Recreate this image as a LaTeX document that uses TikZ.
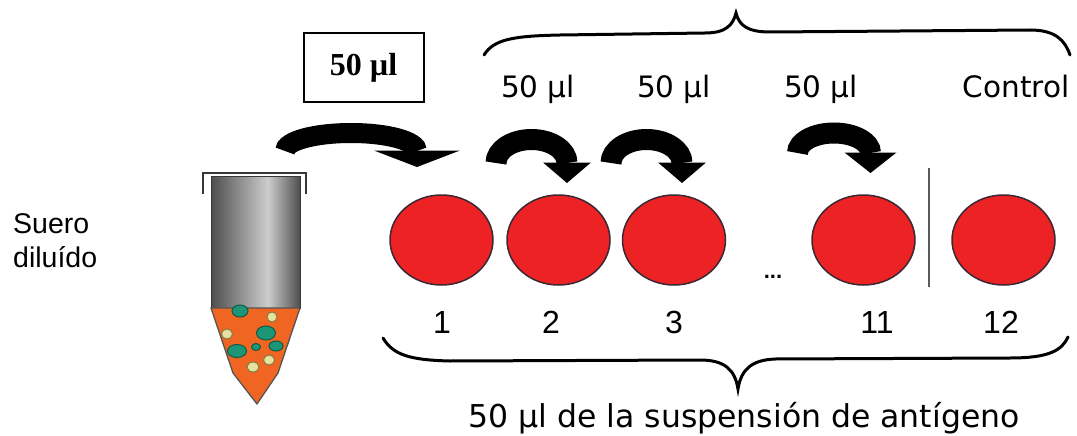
\documentclass[tikz,border=0pt]{standalone}
\usepackage{fontspec}
\usetikzlibrary{shapes.geometric}
\newfontfamily\labelfont{DejaVu Sans}
\newfontfamily\numfont{Liberation Sans}
\newfontfamily\boxfont{Liberation Serif}
\definecolor{wellred}{RGB}{236,34,37}
\definecolor{wellrim}{RGB}{60,40,50}
\definecolor{tubedark}{RGB}{78,78,78}
\definecolor{tubelight}{RGB}{205,205,205}
\definecolor{tubeedge}{RGB}{55,55,55}
\definecolor{coneorange}{RGB}{241,101,34}
\definecolor{coneedge}{RGB}{85,85,85}
\definecolor{bubteal}{RGB}{28,150,118}
\definecolor{bubtealrim}{RGB}{15,90,70}
\definecolor{bubyellow}{RGB}{232,226,160}
\definecolor{bubyellowrim}{RGB}{130,125,70}
\definecolor{sepgray}{RGB}{90,90,90}

% curved transfer arrow: centre x, centre y, x radius, y radius, band width, head half width, head height
\newcommand\bendarrow[7]{%
  \draw[line width=#5pt, line cap=butt, black]
    ({#1-#3},#2) .. controls ({#1-#3},{#2-0.5523*#4}) and ({#1-0.5523*#3},{#2-#4}) .. ({#1},{#2-#4})
    .. controls ({#1+0.5523*#3},{#2-#4}) and ({#1+#3},{#2-0.5523*#4}) .. ({#1+#3},#2);
  \fill[black] ({#1+#3-#6},{#2-0.5}) -- ({#1+#3+#6},{#2-0.5}) -- ({#1+#3},{#2+#7}) -- cycle;
}

\begin{document}
\begin{tikzpicture}[x=1pt,y=-1pt,
  toplabel/.style={font=\labelfont\fontsize{29.5}{34}\selectfont, anchor=base, inner sep=0pt},
  numlabel/.style={font=\numfont\fontsize{32}{38}\selectfont, anchor=base, inner sep=0pt},
  sidelabel/.style={font=\numfont\fontsize{28.5}{34}\selectfont, anchor=base west, inner sep=0pt},
  well/.style={ellipse, draw=wellrim, fill=wellred, line width=1.5pt,
    minimum width=103pt, minimum height=90pt, inner sep=0pt},
  brace/.style={line width=3pt, black, line cap=round},
  teal bubble/.style={fill=bubteal, draw=bubtealrim, line width=1pt},
  yellow bubble/.style={fill=bubyellow, draw=bubyellowrim, line width=1pt}]
\useasboundingbox (0,0) rectangle (1077,436);

% upper brace over the transfers
\draw[brace] (484,55) .. controls (494,39) and (514,36) .. (560,35) -- (705,33)
  .. controls (726,33) and (733,25) .. (736,13)
  .. controls (739,25) and (747,32) .. (770,32) -- (1030,30)
  .. controls (1055,30) and (1065,40) .. (1070,55);

% lower brace under the wells
\draw[brace] (383,338) .. controls (393,355) and (410,360) .. (450,361) -- (700,360)
  .. controls (725,360) and (735,370) .. (738,389)
  .. controls (741,370) and (751,360) .. (775,359) -- (1010,358)
  .. controls (1050,358) and (1062,350) .. (1068,337);

% volume box
\node[draw, line width=2pt, minimum width=120pt, minimum height=69pt, inner sep=0pt,
  font=\boxfont\bfseries\fontsize{32}{38}\selectfont] (vol) at (363.5,68) {50 µl};

% labels above the wells
\node[toplabel] (t1) at (538,97) {50 µl};
\node[toplabel] (t2) at (674,97) {50 µl};
\node[toplabel] (t3) at (821,97) {50 µl};
\node[toplabel] (t4) at (1016,97) {Control};

% transfer arrows
\bendarrow{351}{151}{66}{18}{20}{43}{16}
\bendarrow{531.5}{163}{35.5}{23.5}{21}{24}{20}
\bendarrow{646.5}{163}{35.5}{23.5}{21}{24}{20}
\bendarrow{834}{153}{36.5}{20}{21}{26}{20}

% wells
\node[well] (w1) at (441.5,240) {};
\node[well] (w2) at (558.5,240) {};
\node[well] (w3) at (674,240) {};
\node[well] (w11) at (863.5,240) {};
\node[well] (w12) at (1003.5,240) {};
\node[font=\numfont\bfseries\fontsize{22}{26}\selectfont, anchor=base, inner sep=0pt] (dots) at (773,278) {...};

% control separator
\draw[sepgray, line width=2pt] (929,168) -- (929,287);

% well numbers
\node[numlabel] (n1) at (442,333) {1};
\node[numlabel] (n2) at (551,333) {2};
\node[numlabel] (n3) at (674,333) {3};
\node[numlabel] (n11) at (877,333) {11};
\node[numlabel] (n12) at (1001,333) {12};

% bottom caption
\node[font=\labelfont\fontsize{31.5}{38}\selectfont, anchor=base, inner sep=0pt] (cap) at (744,427)
  {50 µl de la suspensión de antígeno};

% side label
\node[sidelabel] (s1) at (13,233) {Suero};
\node[sidelabel] (s2) at (13,267) {diluído};

% tube: cap bracket, body, cone and particles
\draw[tubeedge, line width=1.5pt] (203,194) -- (203,173) -- (306,173) -- (306,194);
\shade[left color=tubedark, right color=tubelight] (211,176) rectangle (268,308);
\shade[left color=tubelight, right color=tubedark] (268,176) rectangle (300,308);
\draw[tubeedge, line width=1pt] (211,176) rectangle (300,308);
\filldraw[fill=coneorange, draw=coneedge, line width=1.3pt, line join=round]
  (211,308) -- (233,373) -- (257,404) -- (278,373) -- (300,308) -- cycle;
\filldraw[teal bubble] (240,311) ellipse [x radius=8pt, y radius=6pt];
\filldraw[yellow bubble] (272,317) ellipse [x radius=5pt, y radius=5pt];
\filldraw[yellow bubble] (227,334) ellipse [x radius=5.5pt, y radius=5pt];
\filldraw[teal bubble] (266,333) ellipse [x radius=9.5pt, y radius=7pt];
\filldraw[teal bubble] (237,351) ellipse [x radius=9.5pt, y radius=6.5pt];
\filldraw[teal bubble] (256,347) ellipse [x radius=4.5pt, y radius=3.5pt];
\filldraw[teal bubble] (276,346) ellipse [x radius=7pt, y radius=5pt];
\filldraw[yellow bubble] (269,360) ellipse [x radius=5.5pt, y radius=5pt];
\filldraw[yellow bubble] (253,367) ellipse [x radius=6pt, y radius=5pt];
\end{tikzpicture}
\end{document}
